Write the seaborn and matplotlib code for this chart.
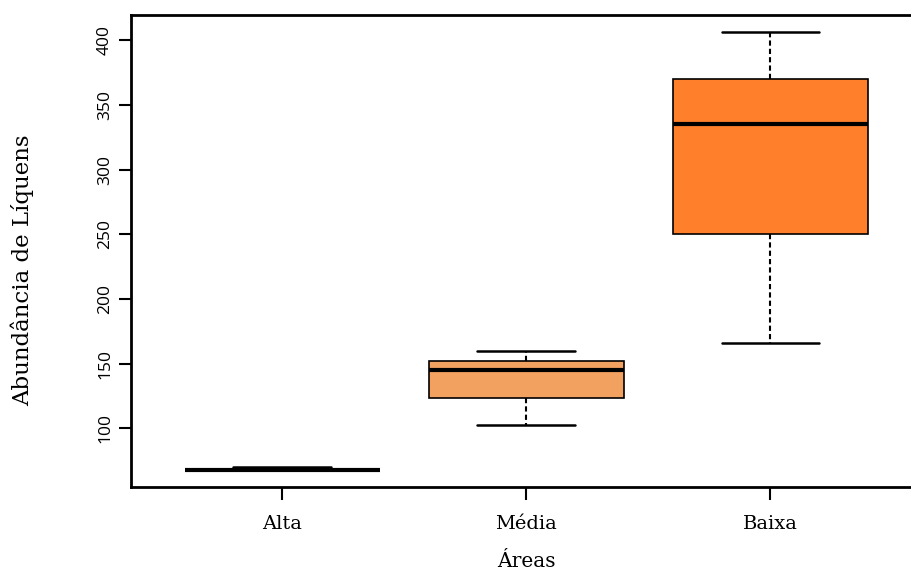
import matplotlib
matplotlib.use("Agg")
import matplotlib.pyplot as plt
import seaborn as sns
import pandas as pd

# Five-number summaries per area (min, Q1, median, Q3, max)
areas = ["Alta", "Média", "Baixa"]
alta = [68, 68, 68, 68, 70]
media = [102.5, 123, 145, 152, 160]
baixa = [166, 250, 335, 370, 406]
box_colors = ["#F6C08A", "#F2A160", "#FF7F2A"]
y_ticks = [100, 150, 200, 250, 300, 350, 400]

df = pd.DataFrame({
    "area": [areas[0]] * len(alta) + [areas[1]] * len(media) + [areas[2]] * len(baixa),
    "abund": alta + media + baixa,
})

sns.set_theme(style="white")
plt.rcParams["font.family"] = ["DejaVu Serif"]
plt.rcParams["text.color"] = "black"
plt.rcParams["xtick.color"] = "black"
plt.rcParams["ytick.color"] = "black"
plt.rcParams["axes.labelcolor"] = "black"

fig = plt.figure(figsize=(9.12, 5.74), dpi=100)
ax = fig.add_axes([131 / 912, (574 - 487) / 574, (921.6 - 131) / 912, (487 - 15) / 574])

sns.boxplot(
    data=df, x="area", y="abund", hue="area", order=areas, hue_order=areas,
    palette=box_colors, width=0.8, whis=(0, 100), linecolor="black", linewidth=1,
    saturation=1, legend=False, ax=ax,
    medianprops=dict(color="black", linewidth=3),
    whiskerprops=dict(color="black", linewidth=1.5, linestyle=(0, (2.5, 1.5))),
    capprops=dict(color="black", linewidth=1.8),
    boxprops=dict(edgecolor="black", linewidth=1.2),
)

ax.set_xlim(-0.62, 2.62)
ax.set_ylim(54.5, 419.5)
ax.set_yticks(y_ticks)
ax.set_yticklabels([str(t) for t in y_ticks], rotation=90, va="center",
                   family="Open Sans", fontsize=12.5)
ax.set_xticks(range(len(areas)))
ax.set_xticklabels(areas, fontsize=14)

for s in ax.spines.values():
    s.set_visible(True)
    s.set_color("black")
    s.set_linewidth(2)

ax.tick_params(axis="both", direction="out", length=9, width=1.5, color="black",
               labelcolor="black", bottom=True, left=True)
ax.tick_params(axis="y", pad=4)
ax.tick_params(axis="x", pad=11)

ax.set_xlabel("Áreas", fontsize=14.5)
ax.set_ylabel("Abundância de Líquens", fontsize=16.5)
ax.xaxis.set_label_coords(0.5, -0.138)
ax.yaxis.set_label_coords(-0.123, 0.46)

fig.savefig("out.png", dpi=100)
